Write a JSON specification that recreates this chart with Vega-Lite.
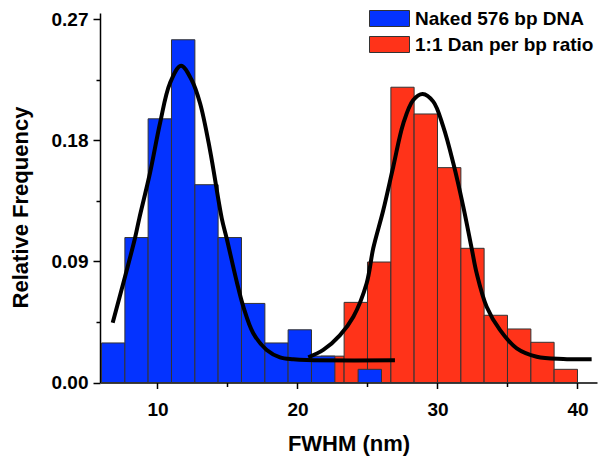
{
  "$schema": "https://vega.github.io/schema/vega-lite/v6.json",
  "autosize": {"type": "none"},
  "padding": {"left": 100, "top": 13, "right": 1, "bottom": 76},
  "width": 497,
  "height": 369.5,
  "background": "white",
  "config": {
    "view": {"stroke": null},
    "font": "Liberation Sans",
    "axis": {"grid": false, "domainColor": "black", "domainWidth": 1.5, "tickColor": "black", "tickWidth": 1.5, "labelColor": "black", "titleColor": "black", "labelFont": "Liberation Sans", "titleFont": "Liberation Sans", "labelFontWeight": "bold", "titleFontWeight": "bold"}
  },
  "datasets": {
    "bars": [
      {"x0": 21.67, "x1": 23.33, "freq": 0.0196, "series": "1:1 Dan per bp ratio"},
      {"x0": 23.33, "x1": 25.0, "freq": 0.0596, "series": "1:1 Dan per bp ratio"},
      {"x0": 25.0, "x1": 26.67, "freq": 0.0896, "series": "1:1 Dan per bp ratio"},
      {"x0": 26.67, "x1": 28.33, "freq": 0.2196, "series": "1:1 Dan per bp ratio"},
      {"x0": 28.33, "x1": 30.0, "freq": 0.1997, "series": "1:1 Dan per bp ratio"},
      {"x0": 30.0, "x1": 31.67, "freq": 0.1598, "series": "1:1 Dan per bp ratio"},
      {"x0": 31.67, "x1": 33.33, "freq": 0.0998, "series": "1:1 Dan per bp ratio"},
      {"x0": 33.33, "x1": 35.0, "freq": 0.0500, "series": "1:1 Dan per bp ratio"},
      {"x0": 35.0, "x1": 36.67, "freq": 0.0398, "series": "1:1 Dan per bp ratio"},
      {"x0": 36.67, "x1": 38.33, "freq": 0.0299, "series": "1:1 Dan per bp ratio"},
      {"x0": 38.33, "x1": 40.0, "freq": 0.0098, "series": "1:1 Dan per bp ratio"},
      {"x0": 6.0, "x1": 7.67, "freq": 0.0294, "series": "Naked 576 bp DNA"},
      {"x0": 7.67, "x1": 9.33, "freq": 0.1078, "series": "Naked 576 bp DNA"},
      {"x0": 9.33, "x1": 11.0, "freq": 0.1961, "series": "Naked 576 bp DNA"},
      {"x0": 11.0, "x1": 12.67, "freq": 0.2549, "series": "Naked 576 bp DNA"},
      {"x0": 12.67, "x1": 14.33, "freq": 0.1471, "series": "Naked 576 bp DNA"},
      {"x0": 14.33, "x1": 16.0, "freq": 0.1078, "series": "Naked 576 bp DNA"},
      {"x0": 16.0, "x1": 17.67, "freq": 0.0588, "series": "Naked 576 bp DNA"},
      {"x0": 17.67, "x1": 19.33, "freq": 0.0294, "series": "Naked 576 bp DNA"},
      {"x0": 19.33, "x1": 21.0, "freq": 0.0392, "series": "Naked 576 bp DNA"},
      {"x0": 21.0, "x1": 22.67, "freq": 0.0196, "series": "Naked 576 bp DNA"},
      {"x0": 24.33, "x1": 26.0, "freq": 0.0098, "series": "Naked 576 bp DNA"}
    ],
    "curves": [
      {"curve": "blue", "cx": 6.80, "cy": 0.0445},
      {"curve": "blue", "cx": 7.68, "cy": 0.0787},
      {"curve": "blue", "cx": 8.39, "cy": 0.1073},
      {"curve": "blue", "cx": 8.70, "cy": 0.1221},
      {"curve": "blue", "cx": 9.46, "cy": 0.1556},
      {"curve": "blue", "cx": 10.18, "cy": 0.1928},
      {"curve": "blue", "cx": 10.89, "cy": 0.2226},
      {"curve": "blue", "cx": 11.68, "cy": 0.2356},
      {"curve": "blue", "cx": 12.44, "cy": 0.2250},
      {"curve": "blue", "cx": 13.04, "cy": 0.2077},
      {"curve": "blue", "cx": 13.75, "cy": 0.1729},
      {"curve": "blue", "cx": 14.59, "cy": 0.1221},
      {"curve": "blue", "cx": 14.94, "cy": 0.1073},
      {"curve": "blue", "cx": 15.66, "cy": 0.0750},
      {"curve": "blue", "cx": 16.13, "cy": 0.0564},
      {"curve": "blue", "cx": 16.84, "cy": 0.0366},
      {"curve": "blue", "cx": 17.80, "cy": 0.0242},
      {"curve": "blue", "cx": 18.75, "cy": 0.0187},
      {"curve": "blue", "cx": 19.70, "cy": 0.0173},
      {"curve": "blue", "cx": 20.66, "cy": 0.0167},
      {"curve": "blue", "cx": 26.96, "cy": 0.0165},
      {"curve": "red", "cx": 20.77, "cy": 0.0187},
      {"curve": "red", "cx": 21.84, "cy": 0.0242},
      {"curve": "red", "cx": 23.04, "cy": 0.0353},
      {"curve": "red", "cx": 23.99, "cy": 0.0489},
      {"curve": "red", "cx": 24.94, "cy": 0.0738},
      {"curve": "red", "cx": 25.41, "cy": 0.0998},
      {"curve": "red", "cx": 26.13, "cy": 0.1283},
      {"curve": "red", "cx": 26.84, "cy": 0.1605},
      {"curve": "red", "cx": 27.56, "cy": 0.1928},
      {"curve": "red", "cx": 28.27, "cy": 0.2101},
      {"curve": "red", "cx": 28.94, "cy": 0.2146},
      {"curve": "red", "cx": 29.70, "cy": 0.2089},
      {"curve": "red", "cx": 30.41, "cy": 0.1903},
      {"curve": "red", "cx": 31.13, "cy": 0.1630},
      {"curve": "red", "cx": 31.84, "cy": 0.1308},
      {"curve": "red", "cx": 32.44, "cy": 0.0998},
      {"curve": "red", "cx": 32.80, "cy": 0.0812},
      {"curve": "red", "cx": 33.51, "cy": 0.0564},
      {"curve": "red", "cx": 34.46, "cy": 0.0391},
      {"curve": "red", "cx": 35.66, "cy": 0.0254},
      {"curve": "red", "cx": 37.09, "cy": 0.0192},
      {"curve": "red", "cx": 38.99, "cy": 0.0175},
      {"curve": "red", "cx": 41.01, "cy": 0.0173}
    ]
  },
  "resolve": {"axis": {"x": "independent", "y": "independent"}},
  "layer": [
    {
      "data": {"name": "bars"},
      "mark": {"type": "rect", "stroke": "#333333", "strokeWidth": 1},
      "encoding": {
        "x": {"field": "x0", "type": "quantitative", "scale": {"domain": [5.893, 41.393], "nice": false, "zero": false},
          "axis": {"orient": "bottom", "values": [10, 20, 30, 40], "title": "FWHM (nm)", "tickSize": 6, "labelFontSize": 19, "titleFontSize": 22, "labelPadding": 12, "titlePadding": 14, "labelFlush": false}},
        "x2": {"field": "x1"},
        "y": {"field": "freq", "type": "quantitative", "scale": {"domain": [0, 0.2748], "nice": false},
          "axis": {"orient": "left", "values": [0, 0.09, 0.18, 0.27], "format": ".2f", "title": "Relative Frequency", "tickSize": 7, "labelFontSize": 19, "titleFontSize": 22, "labelPadding": 5, "titlePadding": 19, "titleY": 194}},
        "y2": {"datum": 0},
        "color": {"field": "series", "type": "nominal",
          "scale": {"domain": ["Naked 576 bp DNA", "1:1 Dan per bp ratio"], "range": ["#0433ff", "#ff3319"]},
          "legend": {"orient": "none", "legendX": 280, "legendY": -4, "title": null, "symbolType": "M-2.5,-1H2.5V1H-2.5Z", "symbolSize": 256, "symbolStrokeColor": "#333333", "symbolStrokeWidth": 1, "symbolOpacity": 1, "labelFontSize": 19, "labelFontWeight": "bold", "labelColor": "black", "labelFont": "Liberation Sans", "labelOffset": 16, "labelLimit": 0, "rowPadding": 5, "padding": 0}}
      }
    },
    {
      "data": {"name": "curves"},
      "mark": {"type": "line", "color": "black", "strokeWidth": 4, "interpolate": "catmull-rom"},
      "encoding": {
        "x": {"field": "cx", "type": "quantitative", "scale": {"domain": [5.893, 41.393], "nice": false, "zero": false},
          "axis": {"orient": "bottom", "values": [15, 25, 35], "labels": false, "domain": false, "title": null, "tickSize": 4}},
        "y": {"field": "cy", "type": "quantitative", "scale": {"domain": [0, 0.2748], "nice": false},
          "axis": {"orient": "left", "values": [0.045, 0.135, 0.225], "labels": false, "domain": false, "title": null, "tickSize": 4}},
        "detail": {"field": "curve"}
      }
    }
  ]
}
